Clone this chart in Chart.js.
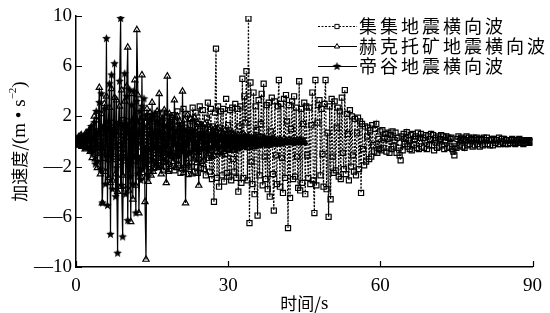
<!DOCTYPE html>
<html>
<head>
<meta charset="utf-8">
<script src="https://cdn.jsdelivr.net/npm/chart.js@4.4.0/dist/chart.umd.min.js"></script>
<style>
  html, body { margin: 0; padding: 0; background: #fff; }
  #wrap { width: 550px; height: 313px; }
</style>
</head>
<body>
<div id="wrap"><canvas id="accChart" width="550" height="313"></canvas></div>
<script>
const dt = 0.2; // s, spacing of the digitised samples
const xTicks = [0, 30, 60, 90];
const yTicks = [-10, -6, -2, 2, 6, 10];
const seriesNames = ['集集地震横向波', '赫克托矿地震横向波', '帝谷地震横向波'];

// 集集 (Chi-Chi), 0-90 s, one row per second
const chiChi = [
  0.1, -0.2, 0.1, -0.1, 0.2,    -0.3, 0.2, -0.1, 0.3, -0.2,    0.4, -0.2, 0.5, -0.4, 0.1,
  -0.6, 0.5, -0.2, 0.7, -0.5,   0.8, -0.4, -0.9, 0.6, -0.3,    1.1, -0.8, 0.3, -1.3, 0.9,
  -0.5, 1.3, -1.4, 0.6, -0.9,   1.5, -0.4, -1.2, 0.9, -1.4,    0.5, 1.4, -1.6, -0.3, 1.1,
  -1.3, 1.7, -0.6, 1.1, -1.5,   0.4, 1.6, -1.8, 0.7, -1.0,     1.3, -0.5, -1.5, 1.8, -1.2,
  0.6, -1.9, 1.2, -0.4, 1.6,    -1.3, 1.9, -0.7, -1.7, 1.5,    -0.6, 2.0, -1.8, 0.8, -1.5,
  1.8, -0.9, -2.1, 1.6, -0.4,   2.2, -1.7, 0.6, -1.9, 1.5,     -0.8, 2.3, -1.6, 0.9, -2.0,
  2.0, -0.6, -2.2, 1.9, -1.1,   0.7, 2.1, -2.3, -0.9, 1.6,     2.4, -1.9, 0.8, -2.5, 1.3,
  -0.7, 2.6, -2.1, 1.1, -1.7,   2.2, -2.6, 0.9, 1.8, -2.0,     2.7, -1.2, -2.4, 2.3, -0.8,
  -2.5, 1.4, 2.8, -2.1, 0.6,    2.5, -2.2, 1.0, -2.7, 1.9,     3.1, -1.3, -2.4, 2.6, -3.0,
  1.2, -4.8, 2.3, 7.4, -2.9,    2.8, -3.6, 1.1, 2.4, -2.7,     2.6, -3.2, -1.0, 3.4, -2.5,
  1.3, -2.8, 2.5, -3.1, 2.7,    -1.4, -2.4, 3.0, -2.9, 2.6,    -4.0, 1.2, 2.8, -3.3, 5.0,
  -2.9, 3.6, 1.5, 5.6, -3.1,    9.8, -6.5, 4.7, -1.6, -3.4,    3.9, -4.2, 2.8, 0.9, -5.9,
  3.3, -2.7, 1.4, 3.8, -3.5,    4.6, -1.2, -3.0, 2.9, -3.8,    3.1, -4.4, 0.8, 3.5, -2.6,
  -5.5, 3.2, -1.1, -3.4, 2.8,   4.9, -3.6, 3.0, -1.3, -4.1,    3.4, -2.9, 3.7, 1.6, -6.9,
  2.9, -4.5, 1.0, 3.2, -3.0,    3.6, -2.8, 2.7, -1.2, -3.7,    4.8, -3.9, 2.6, -3.3, 1.4,
  3.1, -4.2, 2.8, -1.1, -2.9,   2.7, -3.4, 1.3, 3.9, -3.1,     -5.7, 4.9, -3.5, 1.5, 2.9,
  3.3, -2.7, 2.6, -1.0, -3.6,   3.0, 4.9, -3.8, 0.7, -6.0,     2.8, -4.6, 3.4, -1.2, -2.5,
  3.2, -2.3, 1.1, 2.7, -2.8,    2.4, -3.0, 3.5, -0.9, -2.2,    4.1, -2.6, 2.2, 0.6, -3.1,
  2.5, -2.0, 2.0, -1.1, -2.4,   1.8, -2.7, 0.7, 1.9, -2.2,     1.6, -4.1, 1.4, -0.6, -1.9,
  1.2, -1.6, 0.4, 1.1, -1.4,    0.9, -1.2, 1.3, -0.3, -0.8,    1.0, 1.4, -0.9, 0.2, -0.6,
  0.8, -0.7, 0.9, -0.5, 0.3,    0.6, -0.8, 0.2, 0.7, -0.9,     0.5, -0.6, 0.8, -0.4, 0.1,
  0.7, -0.9, 0.3, -0.5, -1.1,   -1.5, 0.4, -0.7, 0.6, -0.2,    0.3, 0.75, -0.4, 0.1, -0.6,
  0.5, -0.7, 0.6, -0.3, 0.2,    0.4, -0.5, 0.7, -0.6, 0.3,     0.6, -0.4, 0.3, -0.5, 0.1,
  0.5, -0.6, 0.4, -0.3, 0.2,    0.6, -0.3, 0.5, -0.7, 0.1,     0.3, -0.5, 0.4, -0.4, 0.2,
  0.5, -0.3, 0.4, -0.6, 0.1,    0.4, -0.5, 0.3, -0.4, 0.2,     0.3, -0.6, -0.8, -1.1, -0.4,
  -0.5, 0.2, 0.4, -0.3, 0.1,    0.3, -0.4, 0.2, -0.5, 0.1,     0.4, -0.3, 0.3, -0.2, 0.1,
  0.2, -0.4, 0.3, -0.3, 0.1,    0.3, -0.2, 0.2, -0.4, 0.1,     0.2, -0.3, 0.3, -0.2, 0.1,
  0.3, -0.2, 0.1, -0.3, 0.1,    0.2, -0.3, 0.2, -0.1, 0.1,     0.1, -0.2, 0.3, -0.2, 0.0,
  0.2, -0.1, 0.2, -0.2, 0.1,    0.1, -0.2, 0.1, -0.1, 0.1,     0.2, -0.1, 0.1, -0.2, 0.0,
  0.1, -0.1, 0.2, -0.1, 0.0,    0.1, -0.2, 0.1, -0.1, 0.0,     0.1, -0.1, 0.1, 0.0, -0.1,
  0.0
];

// 赫克托矿 (Hector Mine), 0-45 s
const hectorMine = [
  0.2, -0.3, 0.1, 0.4, -0.2,    0.5, -0.4, -0.1, 0.3, -0.6,    0.7, -0.5, 0.2, 0.9, -0.8,
  1.1, -1.3, 0.4, 2.0, -1.4,    1.7, -2.1, 0.6, 4.3, -2.6,     2.2, -4.9, 1.0, 3.0, -2.4,
  3.6, -1.1, -2.9, 2.7, -3.3,   4.2, -3.1, 0.8, 3.5, -2.6,     3.3, -4.0, 1.2, 2.8, -3.6,
  4.1, -2.7, -0.9, 3.2, -3.8,   4.4, 7.5, -3.9, 1.3, -6.4,     3.8, -4.6, 1.6, 4.9, -3.5,
  8.9, 3.7, -5.7, -1.4, -2.8,   5.3, -2.5, 1.1, -4.8, -9.4,    2.6, -3.2, 0.9, 2.3, -2.7,
  3.1, -2.4, 0.6, 2.1, -1.9,    2.4, -2.1, 3.8, -0.7, -2.6,    1.8, -2.3, 2.5, 0.5, -3.3,
  5.2, -2.4, 2.2, -0.8, -2.0,   1.9, -1.6, 3.3, 0.4, -2.1,     2.0, -1.8, 1.6, -0.5, -2.2,
  4.0, -2.5, 1.7, -4.9, 0.6,    2.1, -1.9, 0.7, 1.8, -2.6,     1.6, -1.4, 1.9, -0.4, -1.7,
  1.5, -3.5, 0.5, 1.3, -1.6,    1.2, -1.5, 1.4, -0.3, -1.1,    1.3, -1.0, 0.4, 1.1, -1.2,
  0.9, -1.1, 1.0, -0.2, -0.8,   1.0, -0.9, 0.3, 0.8, -1.0,     0.7, -0.8, 0.9, -0.1, -0.6,
  0.8, -0.6, 0.2, 0.7, -0.7,    0.6, -0.7, 0.5, -0.2, -0.6,    0.5, -0.5, 0.1, 0.6, -0.4,
  0.6, -0.4, 0.4, -0.1, -0.5,   0.4, -0.5, 0.1, 0.3, -0.4,     0.3, -0.4, 0.4, -0.1, -0.3,
  0.4, -0.3, 0.1, 0.3, -0.2,    0.3, -0.2, 0.2, -0.1, -0.3,    0.2, -0.3, 0.1, 0.2, -0.2,
  0.2, -0.2, 0.1, 0.0, -0.2,    0.1, -0.2, 0.1, 0.0, -0.1,     0.2, -0.1, 0.1, 0.0, -0.1,
  0.1, -0.1, 0.1, 0.0, -0.1,    0.1, -0.1, 0.0, 0.1, -0.1,     0.1, 0.0, 0.1, -0.1, 0.0,
  0.0
];

// 帝谷 (Imperial Valley), 0-40 s
const impValley = [
  0.1, -0.2, 0.3, -0.1, -0.2,   0.4, -0.3, 0.1, 0.2, -0.5,     0.6, -0.4, 0.2, 0.8, -0.7,
  1.2, -0.9, 0.3, 1.5, -1.8,    2.4, -1.6, 0.7, 3.1, -2.2,     3.8, -4.9, 1.2, 2.6, -3.4,
  8.2, -5.1, 1.6, 4.6, -7.4,    5.3, -3.8, 0.9, 6.2, -4.4,     -2.1, -8.9, 1.4, 4.8, 9.8,
  -3.5, -7.6, 1.1, 5.4, -4.2,   3.6, -6.3, 0.8, 4.1, -2.8,     2.9, -3.4, 4.0, -1.2, -5.7,
  3.2, -2.6, 0.7, 2.4, -3.1,    2.8, -2.2, 3.4, -0.6, -1.9,    2.1, -2.8, 0.5, 1.7, -2.3,
  1.9, -1.5, 2.2, -0.4, -1.8,   1.6, -2.0, 0.6, 1.4, -1.2,     1.8, -1.4, 1.2, -0.3, -1.6,
  1.3, -1.1, 0.4, 1.5, -0.9,    1.1, -1.3, 0.8, -0.2, -1.0,    0.9, -1.2, 0.3, 1.2, -0.8,
  1.0, -0.7, 0.9, -0.2, -1.1,   0.7, -0.9, 0.2, 0.6, -0.8,     0.8, -0.6, 0.9, -0.1, -0.5,
  0.6, -0.8, 0.2, 0.5, -0.6,    0.7, -0.5, 0.6, -0.1, -0.7,    0.5, -0.6, 0.1, 0.4, -0.5,
  0.6, -0.4, 0.5, -0.1, -0.3,   0.4, -0.5, 0.1, 0.3, -0.4,     0.5, -0.3, 0.4, -0.1, -0.4,
  0.3, -0.4, 0.1, 0.3, -0.2,    0.4, -0.3, 0.2, 0.0, -0.3,     0.3, -0.2, 0.1, 0.3, -0.2,
  0.2, -0.3, 0.2, 0.0, -0.2,    0.3, -0.2, 0.1, 0.0, -0.2,     0.2, -0.1, 0.2, 0.0, -0.2,
  0.1, -0.2, 0.1, 0.0, -0.1,    0.2, -0.1, 0.1, 0.0, -0.1,     0.1, -0.1, 0.1, 0.0, -0.1,
  0.1, -0.1, 0.0, 0.0, -0.1,
  0.0
];

const toPoints = arr => arr.map((v, i) => ({ x: +(i * dt).toFixed(2), y: v }));

const CJK = '"Noto Sans CJK SC", sans-serif';
const SERIF = '"Liberation Serif", "DejaVu Serif", serif';

// filled five-point star marker
function makeStar(r) {
  const c = document.createElement('canvas');
  const s = Math.ceil(r * 2 + 2);
  c.width = s; c.height = s;
  const g = c.getContext('2d');
  g.beginPath();
  for (let k = 0; k < 10; k++) {
    const rad = k % 2 === 0 ? r : r * 0.45;
    const ang = -Math.PI / 2 + k * Math.PI / 5;
    g.lineTo(s / 2 + rad * Math.cos(ang), s / 2 + rad * Math.sin(ang));
  }
  g.closePath();
  g.fillStyle = '#000';
  g.fill();
  return c;
}
const starMark = makeStar(4.5);

const styles = [
  { pointStyle: 'rect', radius: 3.6, dash: [2, 1.5] },
  { pointStyle: 'triangle', radius: 3.6, dash: [] },
  { pointStyle: starMark, radius: 4, dash: [] }
];

function drawParts(ctx, parts, cx, cy) {
  let total = 0;
  parts.forEach(p => { ctx.font = p.f; p.w = ctx.measureText(p.t).width; total += p.w; });
  let x = cx - total / 2;
  parts.forEach(p => {
    ctx.font = p.f;
    ctx.fillText(p.t, x, cy + (p.dy || 0));
    x += p.w;
  });
}

const decorations = {
  id: 'decorations',
  afterDraw(chart) {
    const { ctx, chartArea: a, scales: { x, y } } = chart;
    ctx.save();
    ctx.strokeStyle = '#000';
    ctx.fillStyle = '#000';
    ctx.lineWidth = 1.2;

    // inward ticks
    ctx.beginPath();
    xTicks.forEach(v => {
      const px = Math.round(x.getPixelForValue(v)) + 0.5;
      ctx.moveTo(px, a.bottom);
      ctx.lineTo(px, a.bottom - 6);
    });
    yTicks.forEach(v => {
      const py = Math.round(y.getPixelForValue(v)) + 0.5;
      ctx.moveTo(a.left, py);
      ctx.lineTo(a.left + 6, py);
    });
    ctx.stroke();

    // axis titles
    ctx.textBaseline = 'middle';
    ctx.textAlign = 'left';
    drawParts(ctx, [
      { t: '时间/', f: '17px ' + CJK },
      { t: 's', f: '19px ' + SERIF }
    ], (a.left + a.right) / 2, 304);

    ctx.save();
    ctx.translate(20, (a.top + a.bottom) / 2);
    ctx.rotate(-Math.PI / 2);
    drawParts(ctx, [
      { t: '加速度/', f: '17px ' + CJK },
      { t: '(m • s', f: '19px ' + SERIF },
      { t: '−2', f: '11px ' + SERIF, dy: -7 },
      { t: ')', f: '19px ' + SERIF }
    ], 0, 0);
    ctx.restore();

    // legend
    const rows = [26, 46, 66];
    seriesNames.forEach((name, i) => {
      const ly = rows[i];
      const st = styles[i];
      ctx.lineWidth = 1;
      ctx.setLineDash(st.dash);
      ctx.beginPath();
      ctx.moveTo(318, ly + 0.5);
      ctx.lineTo(357, ly + 0.5);
      ctx.stroke();
      ctx.setLineDash([]);
      ctx.fillStyle = '#fff';
      if (Chart.helpers && Chart.helpers.drawPoint) {
        Chart.helpers.drawPoint(ctx, { pointStyle: st.pointStyle, radius: 3, borderWidth: 1, rotation: 0 }, 337, ly + 0.5);
      }
      ctx.fillStyle = '#000';
      ctx.font = '18px ' + CJK;
      ctx.letterSpacing = '3px';
      ctx.fillText(name, 359, ly);
      ctx.letterSpacing = '0px';
    });
    ctx.restore();
  }
};

const series = [chiChi, hectorMine, impValley];

new Chart(document.getElementById('accChart'), {
  type: 'line',
  data: {
    datasets: series.map((arr, i) => ({
      label: seriesNames[i],
      data: toPoints(arr),
      borderColor: '#000',
      borderWidth: 1.2,
      borderDash: styles[i].dash,
      pointStyle: styles[i].pointStyle,
      pointRadius: styles[i].radius,
      pointBorderWidth: 1.2,
      pointBorderColor: '#000',
      pointBackgroundColor: 'rgba(255,255,255,0)',
      tension: 0,
      order: 3 - i
    }))
  },
  options: {
    responsive: false,
    animation: false,
    devicePixelRatio: 1,
    layout: { padding: { top: 16, right: 10, left: 0, bottom: 0 } },
    plugins: { legend: { display: false }, tooltip: { enabled: false } },
    scales: {
      x: {
        type: 'linear',
        min: 0, max: 90,
        afterBuildTicks: s => { s.ticks = xTicks.map(v => ({ value: v })); },
        afterFit: s => { s.height = 46; },
        grid: { display: false, drawTicks: false },
        border: { display: true, color: '#000', width: 1.5 },
        ticks: { color: '#000', padding: 8, maxRotation: 0, font: { family: SERIF, size: 19 } }
      },
      y: {
        min: -10, max: 10,
        afterBuildTicks: s => { s.ticks = yTicks.map(v => ({ value: v })); },
        afterFit: s => { s.width = 76; },
        grid: { display: false, drawTicks: false },
        border: { display: true, color: '#000', width: 1.5 },
        ticks: {
          color: '#000', padding: 4,
          font: { family: SERIF, size: 19 },
          callback: v => v < 0 ? '—' + Math.abs(v) : String(v)
        }
      }
    }
  },
  plugins: [decorations]
});
</script>
</body>
</html>
